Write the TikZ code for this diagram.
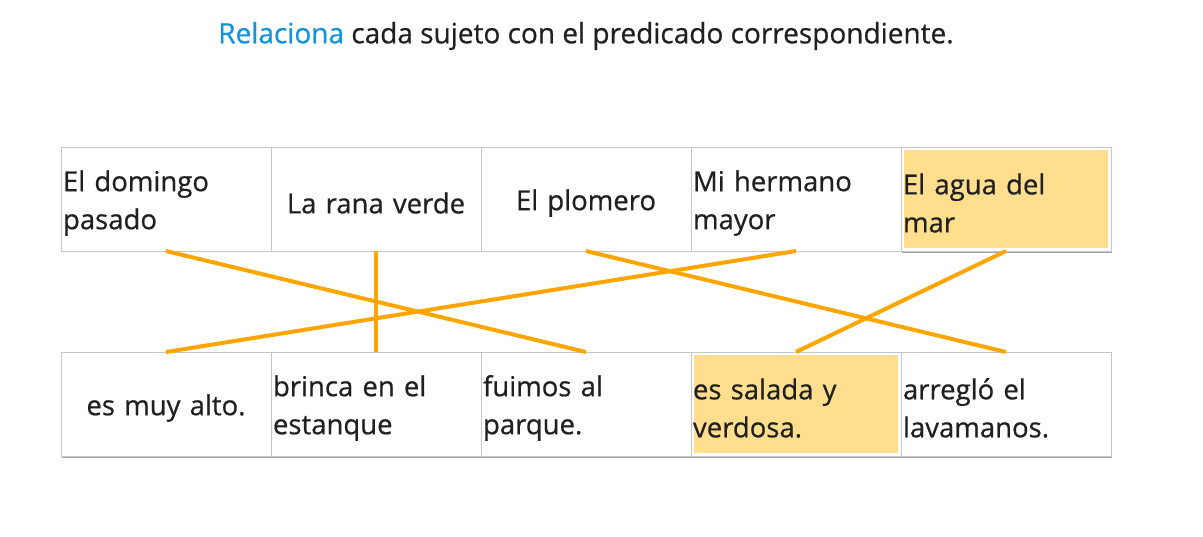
\documentclass[tikz,border=0pt]{standalone}
\usepackage{fontspec}
\setmainfont{Open Sans}[FakeBold=0.6]
\usetikzlibrary{positioning, shadows, backgrounds}

\definecolor{titleblue}{HTML}{1593D8}
\definecolor{inkgray}{HTML}{202020}
\definecolor{cellgray}{HTML}{C6C6C6}
\definecolor{markfill}{HTML}{FFDE8E}
\definecolor{linkorange}{HTML}{FFA500}

\begin{document}
\begin{tikzpicture}[
    x=1pt, y=-1pt,
    node distance=0pt,
    cell/.style={draw=cellgray, fill=white, line width=1pt, outer sep=0pt,
        minimum width=210pt, minimum height=104pt,
        inner xsep=2pt, inner ysep=0pt, text width=206pt, align=left, text=inkgray,
        font=\fontsize{27.5}{38}\selectfont, execute at begin node={\rule{0pt}{29pt}}},
    single/.style={align=center},
    marked/.style={path picture={\fill[markfill]
        ([shift={(3pt,-3pt)}]path picture bounding box.north west) rectangle
        ([shift={(-3pt,3pt)}]path picture bounding box.south east);}},
    match/.style={draw=linkorange, line width=4pt},
    title/.style={font=\fontsize{28}{32}\selectfont, text=inkgray}
]
    \useasboundingbox (0,0) rectangle (1203,536);

    % Title
    \node[title] (title) at (586,36) {\textcolor{titleblue}{Relaciona} cada sujeto con el predicado correspondiente.};

    % Sujetos
    \node[cell, anchor=north west] (s1) at (61,147) {El domingo\\pasado};
    \node[cell, single, right=of s1] (s2) {La rana verde};
    \node[cell, single, right=of s2] (s3) {El plomero};
    \node[cell, right=of s3] (s4) {Mi hermano\\mayor};
    \node[cell, marked, right=of s4] (s5) {El agua del\\mar};

    % Predicados
    \node[cell, single, below=101pt of s1] (p1) {es muy alto.};
    \node[cell, right=of p1] (p2) {brinca en el\\estanque};
    \node[cell, right=of p2] (p3) {fuimos al\\parque.};
    \node[cell, marked, right=of p3] (p4) {es salada y\\verdosa.};
    \node[cell, right=of p4] (p5) {arregló el\\lavamanos.};

    % Shadows
    \begin{scope}[on background layer]
        \fill[black!35] ([shift={(0.5pt,-1.5pt)}]p1.north west) rectangle ([shift={(0.5pt,-1.5pt)}]p5.south east);
        \fill[black!35] ([shift={(0.5pt,-1.5pt)}]s5.north west) rectangle ([shift={(0.5pt,-1.5pt)}]s5.south east);
    \end{scope}

    % Connectors
    \draw[match] (s1.south) -- (p3.north);
    \draw[match] (s2.south) -- (p2.north);
    \draw[match] (s3.south) -- (p5.north);
    \draw[match] (s4.south) -- (p1.north);
    \draw[match] (s5.south) -- (p4.north);
\end{tikzpicture}
\end{document}
